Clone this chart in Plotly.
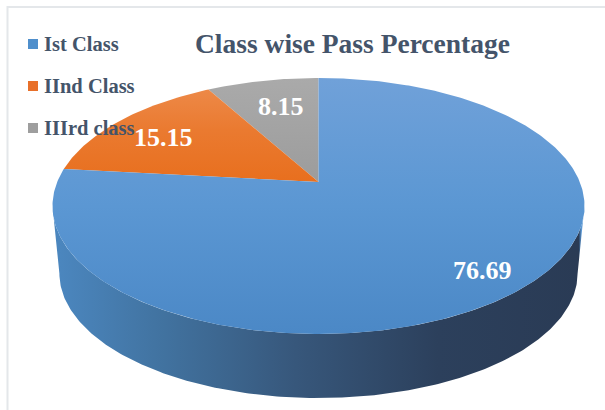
import numpy as np
import plotly.graph_objects as go

categories = ["Ist Class", "IInd Class", "IIIrd class"]
values = [76.69, 15.15, 8.15]
title_text = "Class wise Pass Percentage"

TEXT = "#44546a"
SERIF = "Liberation Serif"
swatch_colors = ["#4f8fcc", "#e8702a", "#9e9e9e"]
top_scales = [
    [[0, "#70a1d9"], [0.5, "#5b97d3"], [1, "#4b88c6"]],
    [[0, "#ee8d4e"], [0.5, "#ea7a30"], [1, "#e86f1e"]],
    [[0, "#aaaaaa"], [1, "#9c9c9c"]],
]
wall_scale = [[0, "#4b86be"], [0.2, "#41729f"], [0.45, "#37577b"], [0.72, "#2c405c"],
              [0.988, "#2a3b55"], [0.993, "#5b97d3"], [1, "#5b97d3"]]

# Perspective projection of the pie's circular top onto the page
CX, CY, K, A, B = 318.5, 182.0, 0.1875, 123.5, 261.3
LOWER_SCALE, LOWER_CY = 0.974, 250.0


def project(theta, scale=1.0, cy=CY):
    """theta: radians counter-clockwise from 12 o'clock."""
    u, v = -np.sin(theta), np.cos(theta)
    d = 1 + K * v
    return CX + scale * B * u / d, cy - scale * A * v / d


fig = go.Figure()

# Side wall: visible front part of the rim, top edge then lower edge
t0 = np.arccos(-K)
front = np.linspace(t0, 2 * np.pi - t0, 240)
tx, ty = project(front)
lx, ly = project(front[::-1], LOWER_SCALE, LOWER_CY)
fig.add_trace(go.Scatter(
    x=np.r_[tx, lx], y=np.r_[ty, ly], mode="lines", fill="toself",
    line=dict(width=0), hoverinfo="skip", showlegend=False,
    fillgradient=dict(type="horizontal", colorscale=wall_scale, start=60, stop=585),
))

# Slices, computed from the values, going counter-clockwise from 12 o'clock:
# IIIrd class, IInd class, then Ist Class
total = sum(values)
start = 0.0
for i in [2, 1, 0]:
    sweep = 2 * np.pi * values[i] / total
    th = np.linspace(start, start + sweep, max(3, int(values[i] * 5)))
    x, y = project(th)
    ys = (78, 334) if i == 0 else (78, 182)
    fig.add_trace(go.Scatter(
        x=np.r_[CX, x, CX], y=np.r_[CY, y, CY], mode="lines", fill="toself",
        line=dict(width=0), name=categories[i], showlegend=False, hoverinfo="name",
        fillgradient=dict(type="vertical", colorscale=top_scales[i], start=ys[0], stop=ys[1]),
    ))
    start += sweep

# Legend swatches
legend_y = [44, 86, 128]
fig.add_trace(go.Scatter(
    x=[33, 33, 33], y=legend_y, mode="markers", hoverinfo="skip", showlegend=False,
    marker=dict(symbol="square", size=[10, 10, 10], color=swatch_colors, opacity=1, line=dict(width=0)),
))

annotations = []
for name, y in zip(categories, legend_y):
    annotations.append(dict(x=41.5, y=y, text=f"<b>{name}</b>", xanchor="left", yanchor="middle",
                            showarrow=False, font=dict(family=SERIF, size=20.5, color=TEXT)))
annotations.append(dict(x=352.5, y=43, text=f"<b>{title_text}</b>", xanchor="center", yanchor="middle",
                        showarrow=False, font=dict(family=SERIF, size=27.5, color=TEXT)))
label_pos = [(482, 270), (163, 137), (281, 106)]
for v, (x, y) in zip(values, label_pos):
    annotations.append(dict(x=x, y=y, text=f"<b>{v:.2f}</b>", xanchor="center", yanchor="middle",
                            showarrow=False, font=dict(family=SERIF, size=26, color="#ffffff")))
for a in annotations:
    a.update(xref="x", yref="y")

fig.update_layout(
    width=605, height=410, margin=dict(l=0, r=0, t=0, b=0),
    paper_bgcolor="#ffffff", plot_bgcolor="#ffffff", showlegend=False,
    xaxis=dict(range=[0, 605], visible=False, fixedrange=True),
    yaxis=dict(range=[410, 0], visible=False, fixedrange=True),
    annotations=annotations,
    shapes=[dict(type="rect", xref="x", yref="y", x0=7.5, y0=7, x1=640, y1=450,
                 line=dict(color="#e4e7ea", width=2), layer="below")],
)

fig.write_html("out.html", config={"displayModeBar": False},
               post_script="document.body.style.margin='0';document.body.style.overflow='hidden';")
